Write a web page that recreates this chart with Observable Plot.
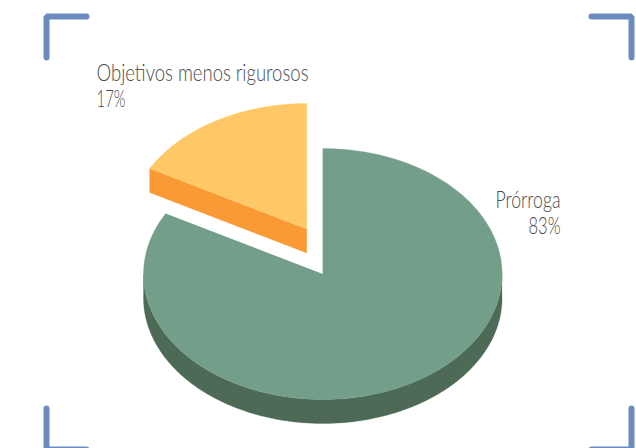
<!DOCTYPE html>
<html>
<head>
<meta charset="utf-8">
<script src="https://cdn.jsdelivr.net/npm/d3@7"></script>
<script src="https://cdn.jsdelivr.net/npm/@observablehq/plot@0.6"></script>
<style>
html,body{margin:0;padding:0;background:#fff;overflow:hidden}
svg{display:block}
</style>
</head>
<body>
<div id="chart"></div>
<script>
const categories = ["Prórroga", "Objetivos menos rigurosos"];
const shares = [83, 17];
const shareLabels = ["83%", "17%"];

// Drawing parameters of the tilted pie
const W = 636, H = 448;
const cx = 322.3, cy = 273.5, rx = 179.3, ry = 125.5, depth = 24;
const explode = {dx: -16, dy: -45};
const colors = {
  mainTop: "#739F8A", mainSide: "#4C6A55",
  smallTop: "#FEC866", smallSide: "#FA9A35",
  bracket: "#6C8CBF", text: "#4a4a4a"
};

const arcs = d3.pie().sort(null).value(d => d)(shares);
const rim = (t, ox = 0, oy = 0) => ({x: cx + ox + rx * Math.sin(t), y: cy + oy - ry * Math.cos(t)});
const sweep = (a, b, ox, oy) => d3.range(0, 241).map(i => rim(a + (b - a) * i / 240, ox, oy));

const main = arcs[0], small = arcs[1];
const mainTop = [{x: cx, y: cy}, ...sweep(main.startAngle, main.endAngle, 0, 0)];
const mainSide = [...sweep(Math.PI / 2, 3 * Math.PI / 2, 0, 0), ...sweep(3 * Math.PI / 2, Math.PI / 2, 0, depth)];
const ex = explode.dx, ey = explode.dy;
const smallTop = [{x: cx + ex, y: cy + ey}, ...sweep(small.startAngle, small.endAngle, ex, ey)];
const smallLeft = rim(small.startAngle, ex, ey);
const smallSide = [
  {x: cx + ex, y: cy + ey}, smallLeft,
  {x: smallLeft.x, y: smallLeft.y + depth}, {x: cx + ex, y: cy + ey + depth}
];

const hx = 40, vy = 41, i0 = 46, i1 = 631, j0 = 16, j1 = 449;
const brackets = [
  [[i0 + hx, j0], [i0, j0], [i0, j0 + vy]],
  [[i1 - hx, j0], [i1, j0], [i1, j0 + vy]],
  [[i0, j1 - vy], [i0, j1], [i0 + hx, j1]],
  [[i1, j1 - vy], [i1, j1], [i1 - hx, j1]]
];

const poly = (pts, fill) => Plot.line(pts, {x: "x", y: "y", fill, stroke: fill, strokeWidth: 0.3, curve: "linear"});
const font = {fontFamily: "Lato", fontWeight: 300, fontSize: 23, lineHeight: 26 / 23, fill: colors.text, stroke: null};

const plot = Plot.plot({
  width: W, height: H, margin: 0,
  style: {background: "#fff"},
  x: {domain: [0, W], range: [0, W], axis: null},
  y: {domain: [0, H], range: [0, H], axis: null},
  marks: [
    poly(mainSide, colors.mainSide),
    poly(mainTop, colors.mainTop),
    poly(smallSide, colors.smallSide),
    poly(smallTop, colors.smallTop),
    ...brackets.map(b => Plot.line(b, {
      x: d => d[0], y: d => d[1], stroke: colors.bracket, strokeWidth: 6,
      strokeLinecap: "round", strokeLinejoin: "miter", curve: "linear"
    })),
    Plot.text([`${categories[1]}\n${shareLabels[1]}`], {x: [96], y: [62], textAnchor: "start", lineAnchor: "top", className: "lab-small", ...font}),
    Plot.text([`${categories[0]}\n${shareLabels[0]}`], {x: [560], y: [189], textAnchor: "end", lineAnchor: "top", className: "lab-main", ...font})
  ]
});
document.getElementById("chart").appendChild(plot);

// Fit the condensed look of the original lettering
const lineWidths = {"lab-small": [212, 29], "lab-main": [65, 32]};
Object.entries(lineWidths).forEach(([cls, widths]) => {
  d3.select(plot).selectAll(`.${cls} tspan`).each(function (_, i) {
    this.setAttribute("textLength", widths[i]);
    this.setAttribute("lengthAdjust", "spacingAndGlyphs");
  });
});
</script>
</body>
</html>
